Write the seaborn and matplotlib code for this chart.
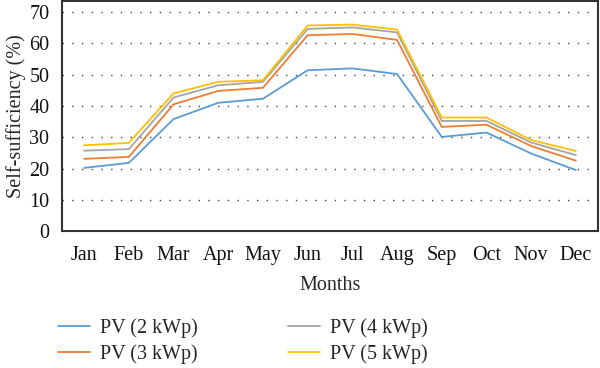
import matplotlib

matplotlib.use("Agg")

import matplotlib.pyplot as plt
import pandas as pd
import seaborn as sns

months = ["Jan", "Feb", "Mar", "Apr", "May", "Jun", "Jul", "Aug", "Sep", "Oct", "Nov", "Dec"]
pv_2kwp = [20.2, 21.8, 35.8, 41.0, 42.3, 51.4, 52.0, 50.2, 30.1, 31.5, 24.8, 19.5]
pv_3kwp = [23.1, 23.7, 40.5, 44.8, 45.8, 62.6, 63.0, 61.1, 33.3, 34.0, 27.2, 22.5]
pv_4kwp = [25.7, 26.2, 42.7, 46.6, 47.7, 64.6, 65.1, 63.5, 35.2, 35.2, 28.3, 24.3]
pv_5kwp = [27.4, 28.2, 44.0, 47.7, 48.2, 65.7, 66.0, 64.4, 36.3, 36.3, 29.1, 25.6]

series_names = ["PV (2 kWp)", "PV (3 kWp)", "PV (4 kWp)", "PV (5 kWp)"]
colors = ["#5B9BD5", "#ED7D31", "#A5A5A5", "#FFC000"]

frames = []
for name, values in zip(series_names, [pv_2kwp, pv_3kwp, pv_4kwp, pv_5kwp]):
    frames.append(pd.DataFrame({"month": months, "value": values, "series": name}))
df = pd.concat(frames, ignore_index=True)
df["pos"] = df["month"].map({m: i for i, m in enumerate(months)})

sns.set_style("white")
plt.rcParams["font.family"] = ["Liberation Serif", "DejaVu Serif"]
fs = 14.5

fig = plt.figure(figsize=(6.0, 3.68), dpi=100)
ax = fig.add_axes([0.103, 0.372, 0.894, 0.625])

sns.lineplot(
    data=df, x="pos", y="value", hue="series", hue_order=series_names,
    palette=colors, linewidth=1.3, ax=ax, legend=False, sort=False,
)

ax.set_xlim(-0.5, 11.5)
ax.set_ylim(0, 73.5)
ax.set_xticks(range(len(months)))
ax.set_xticklabels(months)
ax.set_yticks(range(0, 71, 10))
ax.tick_params(axis="both", length=0, labelsize=fs, colors="#111111")
ax.tick_params(axis="x", pad=11)
ax.tick_params(axis="y", pad=9)
for y in range(10, 71, 10):
    ax.axhline(y, color="#444444", linestyle=(0, (1, 6)), linewidth=1.0, zorder=0)
for spine in ax.spines.values():
    spine.set_color("#333333")
    spine.set_linewidth(1.5)
ax.set_xlabel("Months", fontsize=fs, labelpad=8)
ax.set_ylabel("Self-sufficiency (%)", fontsize=fs, labelpad=2)

handles = [plt.Line2D([], [], color=c, linewidth=1.3) for c in colors]
fig.legend(
    handles, series_names, loc="upper left", bbox_to_anchor=(0.08, 0.162),
    ncol=2, frameon=False, fontsize=fs, handlelength=1.6, handletextpad=0.5,
    columnspacing=4.45, labelspacing=0.3, borderpad=0.0,
)

fig.savefig("out.png", dpi=100)
plt.close(fig)
